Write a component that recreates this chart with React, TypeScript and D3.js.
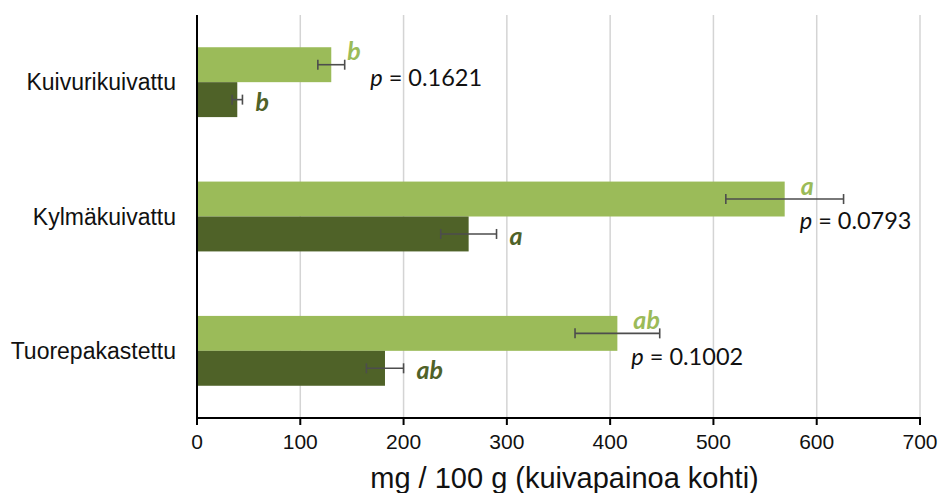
import * as d3 from 'd3';

const categories = ['Kuivurikuivattu', 'Kylmäkuivattu', 'Tuorepakastettu'];
const lightValues = [130, 569, 407];
const lightErr = [13, 57, 41];
const darkValues = [39, 263, 182];
const darkErr = [5, 27, 18];
const lightLetters = ['b', 'a', 'ab'];
const darkLetters = ['b', 'a', 'ab'];
const pValues = ['0.1621', '0.0793', '0.1002'];
const xTicks = [0, 100, 200, 300, 400, 500, 600, 700];

const W = 946;
const H = 493;
const LIGHT = '#9BBB59';
const DARK = '#4F6228';
const ERR = '#4d4d4d';

// offsets for the p labels, relative to the light bar end / light-dark boundary
const pDx = [39, 15, 14];
const pDy = [4, 12, 14];

export default function App() {
  const margin = { top: 15, right: 26, bottom: 75, left: 197 };
  const x = d3.scaleLinear().domain([0, 700]).range([margin.left, W - margin.right]);
  const y = d3
    .scaleBand()
    .domain(categories)
    .range([margin.top, H - margin.bottom])
    .paddingInner(0.48)
    .paddingOuter(0.24);
  const bw = y.bandwidth() / 2;
  const axisY = H - margin.bottom;

  return (
    <div style={{ position: 'absolute', left: 0, top: 0 }}>
      <svg width={W} height={H} style={{ display: 'block', background: '#fff' }}>
        {xTicks.slice(1).map((t) => (
          <line key={t} x1={x(t)} x2={x(t)} y1={margin.top} y2={axisY} stroke="#d4d4d4" strokeWidth={1.5} />
        ))}
        {categories.map((c, i) => {
          const y0 = y(c)!;
          const yMid = y0 + bw;
          const lx = x(lightValues[i]);
          const dx = x(darkValues[i]);
          return (
            <g key={c}>
              <rect x={x(0)} y={y0} width={lx - x(0)} height={bw} fill={LIGHT} />
              <rect x={x(0)} y={yMid} width={dx - x(0)} height={bw} fill={DARK} />
              {[
                { v: lightValues[i], e: lightErr[i], cy: y0 + bw / 2 },
                { v: darkValues[i], e: darkErr[i], cy: yMid + bw / 2 },
              ].map((d, k) => (
                <g key={k} stroke={ERR} strokeWidth={1.6}>
                  <line x1={x(d.v - d.e)} x2={x(d.v + d.e)} y1={d.cy} y2={d.cy} />
                  <line x1={x(d.v - d.e)} x2={x(d.v - d.e)} y1={d.cy - 5} y2={d.cy + 5} />
                  <line x1={x(d.v + d.e)} x2={x(d.v + d.e)} y1={d.cy - 5} y2={d.cy + 5} />
                </g>
              ))}
              <text
                x={lx + 16}
                y={y0 + 13}
                fill={LIGHT}
                fontFamily="Lato, sans-serif"
                fontWeight="bold"
                fontStyle="italic"
                fontSize={25}
              >
                {lightLetters[i]}
              </text>
              <text
                x={x(darkValues[i] + darkErr[i]) + 13}
                y={yMid + bw / 2 + 11}
                fill={DARK}
                fontFamily="Lato, sans-serif"
                fontWeight="bold"
                fontStyle="italic"
                fontSize={25}
              >
                {darkLetters[i]}
              </text>
              <text
                x={lx + pDx[i]}
                y={yMid + pDy[i]}
                fill="#111"
                fontFamily="Lato, sans-serif"
                fontSize={23.5}
              >
                <tspan fontStyle="italic">p</tspan>
                {' = ' + pValues[i]}
              </text>
              <text
                x={176}
                y={yMid}
                dy="0.35em"
                textAnchor="end"
                fontFamily="'Liberation Sans', Arial, sans-serif"
                fontSize={23}
                fill="#111"
              >
                {c}
              </text>
            </g>
          );
        })}
        <line x1={x(0)} x2={x(0)} y1={margin.top} y2={axisY} stroke="#000" strokeWidth={2} />
        <line x1={x(0) - 1} x2={x(700) + 1} y1={axisY} y2={axisY} stroke="#000" strokeWidth={2} />
        {xTicks.map((t) => (
          <g key={t}>
            <line x1={x(t)} x2={x(t)} y1={axisY} y2={axisY + 7} stroke="#000" strokeWidth={2} />
            <text
              x={x(t)}
              y={axisY + 31}
              textAnchor="middle"
              fontFamily="'Liberation Sans', Arial, sans-serif"
              fontSize={21}
              fill="#111"
            >
              {t}
            </text>
          </g>
        ))}
        <text
          x={(x(0) + x(700)) / 2 + 6}
          y={H - 5}
          textAnchor="middle"
          fontFamily="'Liberation Sans', Arial, sans-serif"
          fontSize={29}
          fill="#111"
        >
          mg / 100 g (kuivapainoa kohti)
        </text>
      </svg>
    </div>
  );
}
